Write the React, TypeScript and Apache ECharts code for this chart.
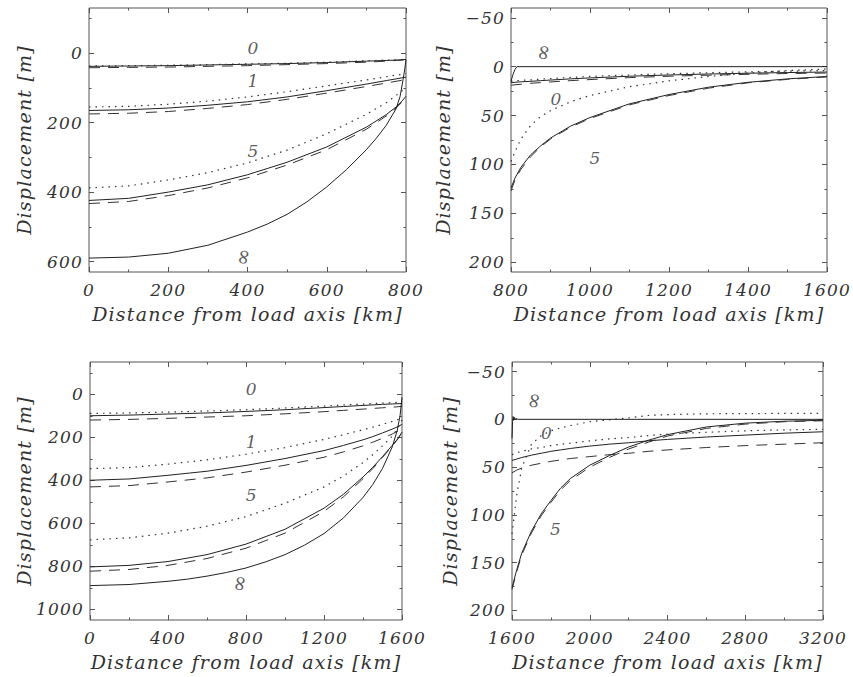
import React, { useEffect, useRef } from "react";
import * as echarts from "echarts";

// ---------- Panel A: 800 km load, 0–800 km ----------
const xA = [0, 100, 200, 300, 400, 500, 600, 700, 750, 775, 790, 800];
const a0Solid = [38, 37, 36, 34, 32, 30, 27, 23, 21, 20, 19, 18];
const a0Dashed = [42, 41, 40, 38, 36, 33, 30, 26, 23, 21, 20, 19];
const a0Dotted = [37, 36, 35, 33, 31, 29, 26, 22, 20, 19, 18, 17];
const a1Solid = [165, 163, 158, 150, 140, 126, 108, 89, 79, 74, 71, 69];
const a1Dotted = [155, 153, 147, 138, 126, 111, 94, 77, 68, 63, 61, 59];
const a1Dashed = [175, 173, 168, 159, 148, 133, 115, 96, 86, 81, 78, 76];
const a5Solid = [424, 418, 400, 379, 350, 314, 270, 213, 177, 155, 138, 124];
const a5Dashed = [433, 427, 410, 388, 359, 322, 278, 219, 181, 158, 141, 126];
const a5Dotted = [388, 382, 365, 344, 316, 279, 232, 176, 143, 122, 108, 97];
const xAInf = [0, 100, 200, 300, 400, 450, 500, 550, 600, 650, 700, 725, 750, 775, 785, 792, 797, 800];
const aInfSolid = [590, 587, 576, 553, 515, 492, 464, 428, 385, 335, 278, 245, 208, 160, 125, 80, 45, 19];

// ---------- Panel B: 800 km load, 800–1600 km ----------
const xB = [800, 810, 825, 850, 875, 900, 950, 1000, 1100, 1200, 1300, 1400, 1500, 1600];
const b0Solid = [16.5, 16, 15.5, 15, 14.3, 13.7, 12.5, 11.5, 9.8, 8.5, 7.5, 6.7, 6, 5.5];
const b0Dashed = [19, 18.5, 18, 17, 16.3, 15.6, 14.3, 13.2, 11.2, 9.8, 8.7, 7.8, 7, 6.5];
const b0Dotted = [15, 14.5, 14, 13.5, 12.8, 12.2, 11, 10, 8.5, 7.2, 6.2, 5.3, 4.6, 4];
const b5Solid = [124, 114, 103, 90, 81, 73, 61, 52, 38, 28.5, 21, 16, 12.5, 10];
const b5Dashed = [127, 116, 105, 92, 82, 74, 62, 53, 39, 29.5, 22, 16.5, 13, 10.5];
const b5Dotted = [97, 87, 74, 60, 51, 45, 36, 29.5, 20.5, 14.5, 10, 6.5, 4, 2.5];
const xBInf = [800, 805, 810, 815, 1600];
const bInfSolid = [15, 8, 3, 0, 0];

// ---------- Panel C: 1600 km load, 0–1600 km ----------
const xC = [0, 200, 400, 600, 800, 1000, 1200, 1300, 1400, 1450, 1500, 1550, 1580, 1600];
const c0Solid = [100, 97, 92, 87, 80, 72, 62, 57, 52, 49.5, 47, 45, 44, 43];
const c0Dotted = [89, 87, 83, 78, 72, 64, 55, 50, 46, 43.5, 41, 39, 38, 37];
const c0Dashed = [120, 117, 112, 106, 100, 91, 81, 75, 69, 66, 63, 60, 58, 56];
const c1Solid = [400, 394, 377, 358, 331, 299, 262, 238, 212, 197, 180, 162, 150, 140];
const c1Dotted = [346, 341, 325, 305, 279, 248, 210, 188, 165, 153, 140, 126, 117, 110];
const c1Dashed = [431, 425, 408, 389, 362, 330, 293, 268, 240, 223, 205, 185, 170, 160];
const c5Solid = [803, 796, 778, 746, 697, 628, 530, 465, 385, 340, 290, 238, 205, 176];
const c5Dashed = [823, 815, 796, 764, 716, 646, 545, 477, 393, 346, 294, 241, 207, 178];
const c5Dotted = [677, 668, 646, 614, 569, 507, 431, 380, 318, 281, 240, 195, 155, 120];
const xCInf = [0, 200, 400, 500, 600, 700, 800, 900, 1000, 1100, 1200, 1300, 1400, 1450, 1500, 1550, 1575, 1590, 1600];
const cInfSolid = [890, 885, 870, 860, 846, 829, 808, 780, 746, 702, 648, 575, 480, 420, 345, 245, 170, 100, 15];

// ---------- Panel D: 1600 km load, 1600–3200 km ----------
const xD = [1600, 1625, 1650, 1700, 1750, 1800, 1850, 1900, 2000, 2100, 2200, 2300, 2400, 2600, 2800, 3000, 3200];
const d5Solid = [176, 157, 140, 117, 99, 85, 72, 62, 48, 38, 29, 22, 16, 8, 4, 2, 1];
const d5Dashed = [178, 159, 142, 119, 101, 87, 74, 64, 50, 40, 31, 24, 17.5, 9.5, 5, 2.5, 1.5];
const d5Dotted = [120, 78, 51, 26, 17, 12, 9, 6.5, 2.5, 0.5, -1.5, -4, -5, -5.8, -6, -6.2, -6.2];
const d0Solid = [43, 41.5, 40, 37.5, 35.5, 33.5, 32, 30.5, 28, 26, 24.5, 22.5, 21, 18.5, 16.5, 14.5, 13];
const d0Dashed = [56, 53, 51, 48, 46, 44, 42.5, 41, 39, 37, 35.5, 33.5, 32, 29.5, 27.5, 26, 24.5];
const d0Dotted = [37, 35, 33.5, 31, 29.5, 27.5, 26, 25, 22.5, 20.5, 19, 17, 15.5, 13.5, 12, 11, 10.5];
const xDInf = [1600, 1603, 1606, 1609, 1612, 1616, 1620, 1630, 3200];
const dInfSolid = [20, 2, -3, 1, -2, 0.5, -1, 0, 0];

// ---------- Curve labels ----------
const labTextA = ["0", "1", "5", "\u221E"];
const labXA = [415, 415, 415, 389];
const labYA = [-15, 81, 283, 585];
const labTextB = ["\u221E", "0", "5"];
const labXB = [881, 915, 1014];
const labYB = [-15, 33.5, 93.5];
const labTextC = ["0", "1", "5", "\u221E"];
const labXC = [829, 829, 829, 766];
const labYC = [-23, 223, 469, 877];
const labTextD = ["\u221E", "0", "5"];
const labXD = [1711, 1780, 1827];
const labYD = [-20, 14.7, 114.5];

// ---------- Axes ----------
const xRangeA = [0, 800];
const yRangeA = [-130, 630];
const xMajorA = [0, 200, 400, 600, 800];
const xMinorA = [100, 300, 500, 700];
const yMajorA = [0, 200, 400, 600];
const yMinorA = [-100, 100, 300, 500];

const xRangeB = [800, 1600];
const yRangeB = [-60, 210];
const xMajorB = [800, 1000, 1200, 1400, 1600];
const xMinorB = [900, 1100, 1300, 1500];
const yMajorB = [-50, 0, 50, 100, 150, 200];
const yMinorB = [-25, 25, 75, 125, 175];

const xRangeC = [0, 1600];
const yRangeC = [-150, 1050];
const xMajorC = [0, 400, 800, 1200, 1600];
const xMinorC = [200, 600, 1000, 1400];
const yMajorC = [0, 200, 400, 600, 800, 1000];
const yMinorC = [-100, 100, 300, 500, 700, 900];

const xRangeD = [1600, 3200];
const yRangeD = [-60, 210];
const xMajorD = [1600, 2000, 2400, 2800, 3200];
const xMinorD = [1800, 2200, 2600, 3000];
const yMajorD = yMajorB;
const yMinorD = yMinorB;

const X_TITLE = "Distance from load axis [km]";
const Y_TITLE = "Displacement [m]";

const FONT = "'DejaVu Serif', serif";
const TXT = { fontFamily: FONT, fontStyle: "italic" as const, fontSize: 17, color: "#333" };
const AXIS_COLOR = "#555";

const fmt = (v: number) => (v < 0 ? "\u2212" + Math.abs(v) : String(v));

const tick = (vals: number[], len: number) => ({
  show: true,
  inside: true,
  length: len,
  customValues: vals,
  lineStyle: { color: AXIS_COLOR, width: 1 },
});

function xAxesFor(grid: number, range: number[], major: number[], minor: number[]) {
  const base = {
    type: "value",
    gridIndex: grid,
    min: range[0],
    max: range[1],
    splitLine: { show: false },
    axisLine: { show: false, onZero: false },
  };
  return [
    {
      ...base,
      position: "bottom",
      name: X_TITLE,
      nameLocation: "middle",
      nameGap: 32,
      nameTextStyle: { ...TXT, fontSize: 19 },
      axisTick: tick(major, 5),
      axisLabel: { show: true, customValues: major, formatter: fmt, margin: 9, ...TXT },
    },
    { ...base, position: "bottom", axisTick: tick(minor, 2.5), axisLabel: { show: false } },
    { ...base, position: "top", axisTick: tick(major, 5), axisLabel: { show: false } },
    { ...base, position: "top", axisTick: tick(minor, 2.5), axisLabel: { show: false } },
  ];
}

function yAxesFor(grid: number, range: number[], major: number[], minor: number[], gap: number) {
  const base = {
    type: "value",
    gridIndex: grid,
    inverse: true,
    min: range[0],
    max: range[1],
    splitLine: { show: false },
    axisLine: { show: false, onZero: false },
  };
  return [
    {
      ...base,
      position: "left",
      name: Y_TITLE,
      nameLocation: "middle",
      nameRotate: 90,
      nameGap: gap,
      nameTextStyle: { ...TXT, fontSize: 19 },
      axisTick: tick(major, 5),
      axisLabel: { show: true, customValues: major, formatter: fmt, margin: 6, ...TXT },
    },
    { ...base, position: "left", axisTick: tick(minor, 2.5), axisLabel: { show: false } },
    { ...base, position: "right", axisTick: tick(major, 5), axisLabel: { show: false } },
    { ...base, position: "right", axisTick: tick(minor, 2.5), axisLabel: { show: false } },
  ];
}

const STYLES: Record<string, any> = {
  solid: { type: "solid", width: 1, color: "#222" },
  dashed: { type: [11, 8], width: 1, color: "#333" },
  dotted: { type: [1.5, 5], width: 1.2, color: "#333" },
};

function line(grid: number, xs: number[], ys: number[], kind: string) {
  return {
    type: "line",
    xAxisIndex: grid * 4,
    yAxisIndex: grid * 4,
    data: xs.map((x, k) => [x, ys[k]]),
    symbol: "none",
    showSymbol: false,
    smooth: false,
    lineStyle: STYLES[kind],
    silent: true,
    clip: true,
  };
}

function labels(grid: number, texts: string[], xs: number[], ys: number[]) {
  return {
    type: "scatter",
    xAxisIndex: grid * 4,
    yAxisIndex: grid * 4,
    symbolSize: 0,
    silent: true,
    data: texts.map((t, k) => ({
      value: [xs[k], ys[k]],
      label: t === "\u221E" ? { formatter: t, rotate: 78, fontSize: 21 } : { formatter: t },
    })),
    label: { show: true, position: "inside", ...TXT, fontSize: 17 },
  };
}

export default function App() {
  const ref = useRef<HTMLDivElement>(null);
  useEffect(() => {
    if (!ref.current) return;
    const chart = echarts.init(ref.current, null, { renderer: "svg" });
    const gridStyle = { show: true, borderColor: AXIS_COLOR, borderWidth: 1, backgroundColor: "transparent" };
    chart.setOption({
      animation: false,
      backgroundColor: "#fff",
      grid: [
        { ...gridStyle, left: 89, top: 8, width: 317, height: 264 },
        { ...gridStyle, left: 511, top: 8, width: 316, height: 264 },
        { ...gridStyle, left: 90, top: 362, width: 312, height: 258 },
        { ...gridStyle, left: 512, top: 362, width: 311, height: 258 },
      ],
      xAxis: [
        ...xAxesFor(0, xRangeA, xMajorA, xMinorA),
        ...xAxesFor(1, xRangeB, xMajorB, xMinorB),
        ...xAxesFor(2, xRangeC, xMajorC, xMinorC),
        ...xAxesFor(3, xRangeD, xMajorD, xMinorD),
      ],
      yAxis: [
        ...yAxesFor(0, yRangeA, yMajorA, yMinorA, 56),
        ...yAxesFor(1, yRangeB, yMajorB, yMinorB, 59),
        ...yAxesFor(2, yRangeC, yMajorC, yMinorC, 57),
        ...yAxesFor(3, yRangeD, yMajorD, yMinorD, 53),
      ],
      series: [
        line(0, xA, a0Solid, "solid"),
        line(0, xA, a0Dashed, "dashed"),
        line(0, xA, a0Dotted, "dotted"),
        line(0, xA, a1Solid, "solid"),
        line(0, xA, a1Dashed, "dashed"),
        line(0, xA, a1Dotted, "dotted"),
        line(0, xA, a5Solid, "solid"),
        line(0, xA, a5Dashed, "dashed"),
        line(0, xA, a5Dotted, "dotted"),
        line(0, xAInf, aInfSolid, "solid"),
        labels(0, labTextA, labXA, labYA),

        line(1, xB, b0Solid, "solid"),
        line(1, xB, b0Dashed, "dashed"),
        line(1, xB, b0Dotted, "dotted"),
        line(1, xB, b5Solid, "solid"),
        line(1, xB, b5Dashed, "dashed"),
        line(1, xB, b5Dotted, "dotted"),
        line(1, xBInf, bInfSolid, "solid"),
        labels(1, labTextB, labXB, labYB),

        line(2, xC, c0Solid, "solid"),
        line(2, xC, c0Dashed, "dashed"),
        line(2, xC, c0Dotted, "dotted"),
        line(2, xC, c1Solid, "solid"),
        line(2, xC, c1Dashed, "dashed"),
        line(2, xC, c1Dotted, "dotted"),
        line(2, xC, c5Solid, "solid"),
        line(2, xC, c5Dashed, "dashed"),
        line(2, xC, c5Dotted, "dotted"),
        line(2, xCInf, cInfSolid, "solid"),
        labels(2, labTextC, labXC, labYC),

        line(3, xD, d0Solid, "solid"),
        line(3, xD, d0Dashed, "dashed"),
        line(3, xD, d0Dotted, "dotted"),
        line(3, xD, d5Solid, "solid"),
        line(3, xD, d5Dashed, "dashed"),
        line(3, xD, d5Dotted, "dotted"),
        line(3, xDInf, dInfSolid, "solid"),
        labels(3, labTextD, labXD, labYD),
      ],
    });
    return () => chart.dispose();
  }, []);

  return (
    <div style={{ position: "absolute", left: 0, top: 0, width: 853, height: 677, background: "#fff" }}>
      <style>{`#root svg text { letter-spacing: 1.2px; }`}</style>
      <div ref={ref} style={{ width: 853, height: 677 }} />
    </div>
  );
}
